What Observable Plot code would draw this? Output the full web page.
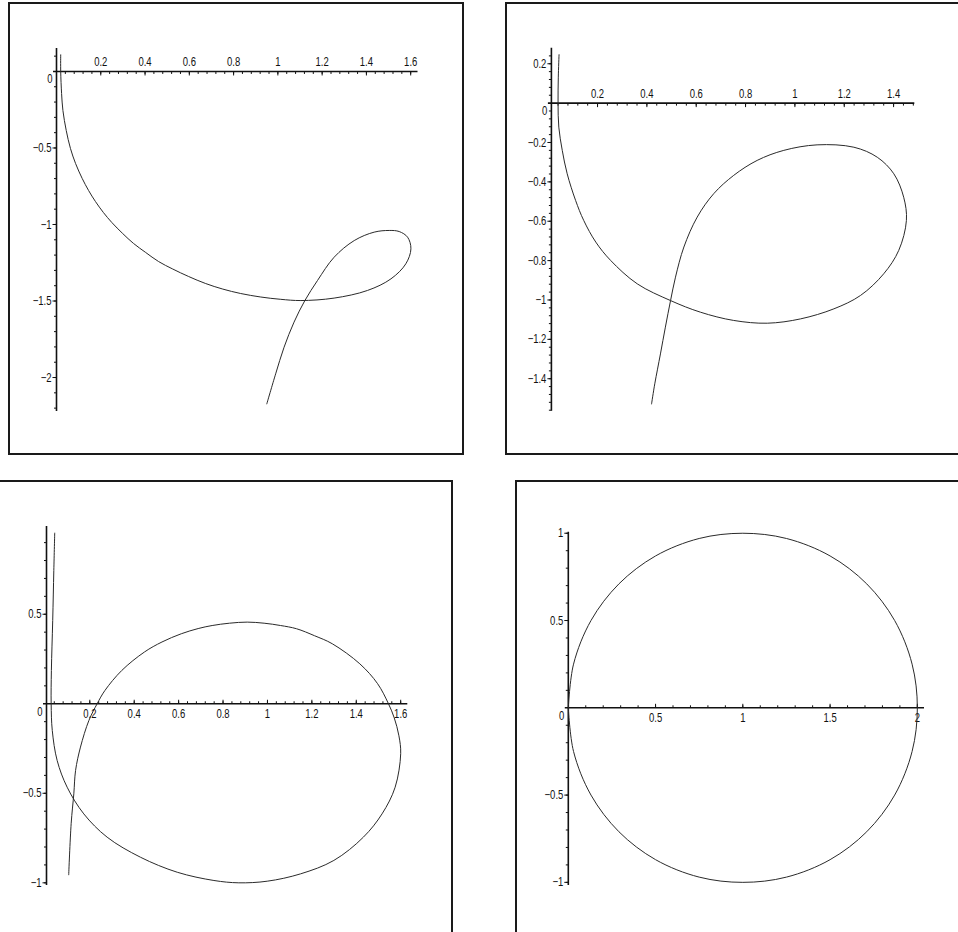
<!DOCTYPE html>
<html><head><meta charset="utf-8">
<script src="https://cdn.jsdelivr.net/npm/d3@7"></script>
<script src="https://cdn.jsdelivr.net/npm/@observablehq/plot@0.6"></script>
<style>
html,body{margin:0;padding:0;background:#fff;}
#page{position:relative;width:958px;height:932px;overflow:hidden;background:#fff;}
.frame{position:absolute;box-sizing:border-box;border:2px solid #1a1a1a;pointer-events:none;}
.holder{position:absolute;}
</style></head>
<body><div id="page"></div>
<script>
// ---------- Panel 1 (top-left) ----------
const p1X = [0.019,0.019,0.023,0.029,0.044,0.063,0.086,0.116,0.145,0.176,0.212,0.250,0.299,0.348,0.403,0.461,0.525,0.597,0.674,0.751,0.832,0.923,1.013,1.104,1.254,1.405,1.511,1.578,1.601,1.586,1.548,1.503,1.435,1.345,1.254,1.179,1.122,1.073,1.028,0.990,0.950];
const p1Y = [0.109,0.000,-0.144,-0.255,-0.386,-0.503,-0.601,-0.699,-0.778,-0.850,-0.922,-0.987,-1.059,-1.124,-1.183,-1.242,-1.291,-1.340,-1.386,-1.422,-1.451,-1.474,-1.489,-1.497,-1.481,-1.431,-1.355,-1.257,-1.159,-1.083,-1.046,-1.039,-1.050,-1.105,-1.214,-1.366,-1.497,-1.638,-1.802,-1.976,-2.172];
const p1XTicks = [0.2,0.4,0.6,0.8,1,1.2,1.4,1.6];
const p1XLabels = ["0.2","0.4","0.6","0.8","1","1.2","1.4","1.6"];
const p1YTicks = [-0.5,-1,-1.5,-2];
const p1YLabels = ["−0.5","−1","−1.5","−2"];

// ---------- Panel 2 (top-right) ----------
const p2X = [0.044,0.041,0.040,0.043,0.057,0.077,0.111,0.144,0.193,0.253,0.361,0.496,0.617,0.752,0.888,1.023,1.158,1.266,1.360,1.421,1.452,1.441,1.401,1.334,1.239,1.090,0.955,0.847,0.752,0.671,0.604,0.550,0.516,0.496,0.475,0.455,0.432,0.419];
const p2Y = [0.246,0.132,0.000,-0.122,-0.240,-0.359,-0.494,-0.596,-0.706,-0.799,-0.918,-1.003,-1.062,-1.104,-1.118,-1.096,-1.045,-0.977,-0.867,-0.748,-0.596,-0.478,-0.359,-0.275,-0.224,-0.212,-0.240,-0.291,-0.367,-0.460,-0.579,-0.731,-0.884,-1.003,-1.138,-1.274,-1.426,-1.528];
const p2XTicks = [0.2,0.4,0.6,0.8,1,1.2,1.4];
const p2XLabels = ["0.2","0.4","0.6","0.8","1","1.2","1.4"];
const p2YTicks = [0.2,-0.2,-0.4,-0.6,-0.8,-1,-1.2,-1.4];
const p2YLabels = ["0.2","−0.2","−0.4","−0.6","−0.8","−1","−1.2","−1.4"];

// ---------- Panel 3 (bottom-left) ----------
const p3X = [0.042,0.038,0.033,0.027,0.026,0.031,0.053,0.098,0.173,0.278,0.428,0.594,0.759,0.871,0.999,1.149,1.299,1.432,1.516,1.575,1.600,1.592,1.571,1.545,1.496,1.416,1.292,1.212,1.131,1.059,0.985,0.909,0.829,0.751,0.688,0.612,0.525,0.446,0.344,0.268,0.233,0.196,0.158,0.136,0.128,0.116,0.105];
const p3Y = [0.953,0.745,0.465,0.186,0.000,-0.149,-0.317,-0.466,-0.615,-0.745,-0.857,-0.941,-0.987,-1.000,-0.991,-0.950,-0.875,-0.745,-0.615,-0.466,-0.279,-0.179,-0.079,0.000,0.112,0.223,0.335,0.380,0.419,0.437,0.450,0.456,0.450,0.437,0.420,0.391,0.345,0.289,0.186,0.074,0.000,-0.093,-0.242,-0.372,-0.503,-0.670,-0.955];
const p3XTicks = [0.2,0.4,0.6,0.8,1,1.2,1.4,1.6];
const p3XLabels = ["0.2","0.4","0.6","0.8","1","1.2","1.4","1.6"];
const p3YTicks = [0.5,-0.5,-1];
const p3YLabels = ["0.5","−0.5","−1"];

// ---------- Panel 4 (bottom-right) ----------
const p4X = [0.00,0.03,0.13,0.29,0.50,0.75,1.00,1.25,1.50,1.71,1.87,1.97,2.00,1.97,1.87,1.71,1.50,1.25,1.00,0.75,0.50,0.29,0.13,0.03,0.00];
const p4Y = [0.00,0.25,0.50,0.71,0.87,0.97,1.00,0.97,0.87,0.71,0.50,0.25,0.00,-0.25,-0.50,-0.71,-0.87,-0.97,-1.00,-0.97,-0.87,-0.71,-0.50,-0.25,0.00];
const p4XTicks = [0.5,1,1.5,2];
const p4XLabels = ["0.5","1","1.5","2"];
const p4YTicks = [1,0.5,-0.5,-1];
const p4YLabels = ["1","0.5","−0.5","−1"];

// ---------- layout / options ----------
const FONT = '"Liberation Sans", Arial, Helvetica, sans-serif';
const FS = 12.5;
const INK = "#111";

const panels = [
  {box:{left:8,top:2,width:456,height:453}, xDomain:[0,1.633], yDomain:[-2.222,0.150],
   margin:{left:48,right:46.5,top:46,bottom:44}, xs:p1X, ys:p1Y,
   xTicks:p1XTicks, xLabels:p1XLabels, yTicks:p1YTicks, yLabels:p1YLabels,
   xStep:0.04, yStep:0.1, above:true},
  {box:{left:505,top:2,width:480,height:453}, xDomain:[0.013,1.486], yDomain:[-1.565,0.279],
   margin:{left:45.9,right:70.7,top:45.7,bottom:44.3}, xs:p2X, ys:p2Y,
   xTicks:p2XTicks, xLabels:p2XLabels, yTicks:p2YTicks, yLabels:p2YLabels,
   xStep:0.04, yStep:0.04, above:true},
  {box:{left:-20,top:480,width:473,height:480}, xDomain:[0.005,1.632], yDomain:[-1.015,0.990],
   margin:{left:66,right:45.7,top:46,bottom:75}, xs:p3X, ys:p3Y,
   xTicks:p3XTicks, xLabels:p3XLabels, yTicks:p3YTicks, yLabels:p3YLabels,
   xStep:0.04, yStep:0.1, above:false},
  {box:{left:515,top:480,width:480,height:480}, xDomain:[0,2.041], yDomain:[-1.018,1.006],
   margin:{left:52.8,right:71,top:51.7,bottom:75}, xs:p4X, ys:p4Y,
   xTicks:p4XTicks, xLabels:p4XLabels, yTicks:p4YTicks, yLabels:p4YLabels,
   xStep:0.1, yStep:0.1, above:false}
];

function tickSymbol(dx, dy) {
  return {draw(ctx) { ctx.moveTo(0, 0); ctx.lineTo(dx, dy); }};
}
function minors(lo, hi, step) {
  const out = [];
  const a = Math.ceil(lo / step - 1e-9), b = Math.floor(hi / step + 1e-9);
  for (let k = a; k <= b; k++) if (k !== 0) out.push(+(k * step).toFixed(6));
  return out;
}

const page = document.getElementById("page");
for (const p of panels) {
  const x0 = p.xDomain[0];
  const xMinor = minors(p.xDomain[0], p.xDomain[1], p.xStep);
  const yMinor = minors(p.yDomain[0], p.yDomain[1], p.yStep);
  const td = p.above ? 1 : -1;
  const pts = d3.zip(p.xs, p.ys);
  const txt = {fill: INK, fontFamily: FONT, fontSize: FS};
  const chart = Plot.plot({
    width: p.box.width, height: p.box.height,
    marginLeft: p.margin.left, marginRight: p.margin.right,
    marginTop: p.margin.top, marginBottom: p.margin.bottom,
    x: {type: "linear", domain: p.xDomain, axis: null},
    y: {type: "linear", domain: p.yDomain, axis: null},
    style: {background: "transparent", overflow: "visible", maxWidth: "none", fontFamily: FONT, fontSize: FS + "px"},
    marks: [
      Plot.ruleY([0], {x1: p.xDomain[0], x2: p.xDomain[1], stroke: INK, strokeWidth: 1.6, insetLeft: -3}),
      Plot.ruleX([x0], {y1: p.yDomain[0], y2: p.yDomain[1], stroke: INK, strokeWidth: 1.6}),
      Plot.dot(xMinor, {x: d => d, y: 0, symbol: tickSymbol(0, 2.5 * td), stroke: INK, fill: "none", strokeWidth: 1}),
      Plot.dot(p.xTicks, {x: d => d, y: 0, symbol: tickSymbol(0, 4 * td), stroke: INK, fill: "none", strokeWidth: 1}),
      Plot.dot(yMinor, {x: x0, y: d => d, symbol: tickSymbol(-2.5, 0), stroke: INK, fill: "none", strokeWidth: 1}),
      Plot.dot(p.yTicks, {x: x0, y: d => d, symbol: tickSymbol(-4, 0), stroke: INK, fill: "none", strokeWidth: 1}),
      Plot.text(p.xTicks, {x: d => d, y: 0, text: (d, i) => p.xLabels[i], dy: p.above ? -9 : 10, ...txt}),
      Plot.text(p.yTicks, {x: x0, y: d => d, text: (d, i) => p.yLabels[i], textAnchor: "end", dx: -5, ...txt}),
      Plot.text([0], {x: x0, y: 0, text: () => "0", textAnchor: "end", dx: -4, dy: 8, ...txt}),
      Plot.line(pts, {x: d => d[0], y: d => d[1], curve: "catmull-rom", stroke: "#2a2a2a", strokeWidth: 1})
    ]
  });
  // condense the tick labels horizontally (Maple's narrow sans face)
  chart.querySelectorAll("text").forEach(t => {
    const tr = t.getAttribute("transform") || "";
    t.setAttribute("transform", (tr + " scale(0.76,1)").trim());
  });
  const holder = document.createElement("div");
  holder.className = "holder";
  holder.style.left = p.box.left + "px";
  holder.style.top = p.box.top + "px";
  holder.style.width = p.box.width + "px";
  holder.style.height = p.box.height + "px";
  holder.appendChild(chart);
  page.appendChild(holder);
  const frame = document.createElement("div");
  frame.className = "frame";
  frame.style.left = p.box.left + "px";
  frame.style.top = p.box.top + "px";
  frame.style.width = p.box.width + "px";
  frame.style.height = p.box.height + "px";
  page.appendChild(frame);
}
</script>
</body></html>
